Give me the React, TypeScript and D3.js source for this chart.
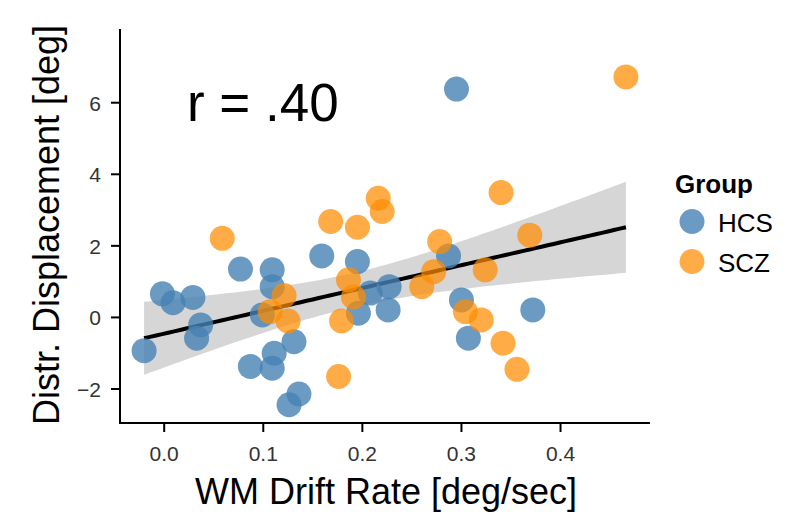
import React from "react";
import * as d3 from "d3";

const hcsX = [-0.0203, -0.0018, 0.0089, 0.029, 0.0368, 0.0327, 0.077, 0.087, 0.099, 0.109, 0.109, 0.111, 0.109, 0.131, 0.126, 0.136, 0.159, 0.195, 0.208, 0.227, 0.226, 0.196, 0.287, 0.3, 0.307, 0.372, 0.295];
const hcsY = [-0.93, 0.66, 0.41, 0.56, -0.21, -0.58, 1.35, -1.37, 0.07, 1.33, 0.86, -1.0, -1.42, -0.68, -2.44, -2.14, 1.72, 1.56, 0.68, 0.86, 0.21, 0.12, 1.72, 0.49, -0.58, 0.21, 6.38];
const sczX = [0.0586, 0.168, 0.195, 0.216, 0.22, 0.186, 0.121, 0.107, 0.125, 0.191, 0.179, 0.176, 0.278, 0.272, 0.324, 0.26, 0.304, 0.32, 0.342, 0.356, 0.34, 0.369, 0.466];
const sczY = [2.21, 2.68, 2.52, 3.33, 2.96, 1.05, 0.61, 0.16, -0.1, 0.57, -0.1, -1.65, 2.12, 1.28, 1.33, 0.86, 0.16, -0.07, -0.72, -1.45, 3.49, 2.3, 6.72];

const xTicks = [0, 0.1, 0.2, 0.3, 0.4];
const yTicks = [-2, 0, 2, 4, 6];
const groups = ["HCS", "SCZ"];
const groupColors = ["#4682b4", "#ff8c00"];
const annotation = "r = .40";

const W = 800, H = 527;
const L = 120, R = 650, T = 29, B = 423;

export default function App() {
  const x = d3.scaleLinear().domain([-0.0446, 0.4903]).range([L, R]);
  const y = d3.scaleLinear().domain([-2.95, 8.06]).range([B, T]);

  const allX = [...hcsX, ...sczX];
  const allY = [...hcsY, ...sczY];
  const n = allX.length;
  const mx = d3.mean(allX)!;
  const my = d3.mean(allY)!;
  let sxx = 0, sxy = 0;
  for (let i = 0; i < n; i++) {
    sxx += (allX[i] - mx) ** 2;
    sxy += (allX[i] - mx) * (allY[i] - my);
  }
  const slope = sxy / sxx;
  const icpt = my - slope * mx;
  let sse = 0;
  for (let i = 0; i < n; i++) sse += (allY[i] - (icpt + slope * allX[i])) ** 2;
  const s = Math.sqrt(sse / (n - 2));
  const tq = 2.0106;
  const [x0, x1] = d3.extent(allX) as [number, number];
  const grid = d3.range(0, 81).map((i) => x0 + ((x1 - x0) * i) / 80);
  const band = grid.map((gx) => {
    const fit = icpt + slope * gx;
    const se = s * Math.sqrt(1 / n + (gx - mx) ** 2 / sxx);
    return { gx, fit, lo: fit - tq * se, hi: fit + tq * se };
  });
  const area = d3
    .area<any>()
    .x((d) => x(d.gx))
    .y0((d) => y(d.lo))
    .y1((d) => y(d.hi))(band)!;
  const line = d3
    .line<any>()
    .x((d) => x(d.gx))
    .y((d) => y(d.fit))(band)!;

  const pts = [
    ...hcsX.map((v, i) => ({ x: v, y: hcsY[i], g: 0 })),
    ...sczX.map((v, i) => ({ x: v, y: sczY[i], g: 1 })),
  ];

  const font = "'Liberation Sans', Arial, sans-serif";

  return (
    <svg width={W} height={H} style={{ position: "absolute", left: 0, top: 0, background: "#fff" }} fontFamily={font}>
      <rect width={W} height={H} fill="#fff" />
      <path d={area} fill="#999999" fillOpacity={0.4} />
      <path d={line} fill="none" stroke="#000" strokeWidth={4} />
      {pts.map((p, i) => (
        <circle key={i} cx={x(p.x)} cy={y(p.y)} r={12.5} fill={groupColors[p.g]} fillOpacity={p.g === 0 ? 0.8 : 0.72} />
      ))}
      <line x1={L} x2={L} y1={T} y2={B + 1} stroke="#000" strokeWidth={2} />
      <line x1={L - 1} x2={R} y1={B} y2={B} stroke="#000" strokeWidth={2} />
      {xTicks.map((t) => (
        <g key={t}>
          <line x1={x(t)} x2={x(t)} y1={B} y2={B + 9} stroke="#000" strokeWidth={2} />
          <text x={x(t)} y={461} fontSize={21} textAnchor="middle" fill="#333">
            {t.toFixed(1)}
          </text>
        </g>
      ))}
      {yTicks.map((t) => (
        <g key={t}>
          <line x1={L - 9} x2={L} y1={y(t)} y2={y(t)} stroke="#000" strokeWidth={2} />
          <text x={101} y={y(t) + 8} fontSize={21} textAnchor="end" fill="#333">
            {t < 0 ? "\u2212" + Math.abs(t) : String(t)}
          </text>
        </g>
      ))}
      <text x={386} y={504} fontSize={36} textAnchor="middle" fill="#000">
        WM Drift Rate [deg/sec]
      </text>
      <text transform={`translate(59,225) rotate(-90)`} fontSize={36} textAnchor="middle" fill="#000">
        Distr. Displacement [deg]
      </text>
      <text x={187} y={121} fontSize={53} fill="#000">
        {annotation}
      </text>
      <text x={675} y={193} fontSize={26} fontWeight="bold" fill="#000">
        Group
      </text>
      {groups.map((g, i) => (
        <g key={g}>
          <circle cx={692} cy={221.5 + i * 40} r={12.5} fill={groupColors[i]} fillOpacity={i === 0 ? 0.8 : 0.72} />
          <text x={718} y={231.5 + i * 40} fontSize={26} fill="#000">
            {g}
          </text>
        </g>
      ))}
    </svg>
  );
}
